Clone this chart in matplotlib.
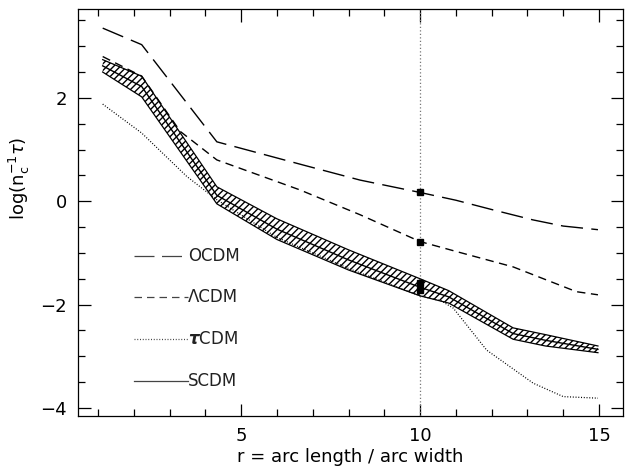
import matplotlib
matplotlib.use("Agg")
import matplotlib.pyplot as plt
import numpy as np

plt.rcParams['font.family'] = ['DejaVu Sans']
plt.rcParams['mathtext.fontset'] = 'dejavusans'
plt.rcParams['hatch.linewidth'] = 1.0

# OCDM (long dashes)
ocdm_r = [1.13, 2.22, 4.32, 6.74, 8.32, 10.0, 11.0, 12.0, 13.15, 14.0, 14.97]
ocdm_v = [3.35, 3.03, 1.15, 0.70, 0.41, 0.17, 0.02, -0.16, -0.36, -0.48, -0.55]

# LCDM (short dashes)
lcdm_r = [1.13, 2.22, 3.3, 4.32, 6.64, 8.32, 10.0, 11.0, 12.6, 14.37, 14.97]
lcdm_v = [2.80, 2.42, 1.35, 0.80, 0.22, -0.26, -0.78, -0.97, -1.27, -1.75, -1.81]

# tauCDM (dotted)
tcdm_r = [1.13, 2.22, 3.48, 4.32, 6.0, 8.0, 10.0, 10.6, 10.93, 11.86, 13.16, 14.0, 14.97]
tcdm_v = [1.88, 1.32, 0.48, 0.03, -0.70, -1.30, -1.83, -1.93, -2.07, -2.88, -3.52, -3.78, -3.81]

# SCDM band (solid centre, hatched spread)
scdm_r = [1.13, 2.22, 4.32, 6.0, 8.0, 10.0, 10.8, 12.6, 13.5, 14.97]
scdm_hi = [2.74, 2.42, 0.28, -0.34, -0.94, -1.50, -1.73, -2.45, -2.58, -2.80]
scdm_lo = [2.50, 2.02, -0.05, -0.74, -1.33, -1.83, -1.97, -2.67, -2.80, -2.93]
scdm_mid = [(a + b) / 2 for a, b in zip(scdm_hi, scdm_lo)]

# points marked at r = 10
mark_r = [10, 10, 10, 10]
mark_v = [0.17, -0.78, -1.58, -1.71]

legend_names = ['OCDM', 'ΛCDM', r'$\boldsymbol{\tau}$CDM', 'SCDM']
legend_y = [-1.05, -1.85, -2.67, -3.48]

fig = plt.figure(figsize=(6.25, 4.66), dpi=100)
ax = fig.add_axes([78/625, 1-416/466, (623-78)/625, (416-9)/466])

ax.axvline(10, color='#777777', lw=0.9, linestyle=(0, (1, 1.8)))

ax.fill_between(scdm_r, scdm_lo, scdm_hi, facecolor='white', edgecolor='black',
                hatch='/////', lw=0)
ax.plot(scdm_r, scdm_hi, color='black', lw=0.9)
ax.plot(scdm_r, scdm_lo, color='black', lw=0.9)
ax.plot(scdm_r, scdm_mid, color='black', lw=1.0)

ax.plot(ocdm_r, ocdm_v, color='black', lw=1.0, dashes=(16, 6))
ax.plot(lcdm_r, lcdm_v, color='black', lw=1.0, dashes=(6, 4))
ax.plot(tcdm_r, tcdm_v, color='black', lw=0.9, dashes=(0.8, 1.4))

ax.plot(mark_r, mark_v, 's', color='black', ms=4.5, lw=0)

# hand-made legend
styles = [dict(dashes=(16, 6)), dict(dashes=(6, 4)), dict(dashes=(0.8, 1.4)), dict()]
for name, yy, st in zip(legend_names, legend_y, styles):
    ax.plot([2.0, 3.5], [yy, yy], color='#444444', lw=0.9, **st)
    ax.text(3.52, yy, name, fontsize=12, va='center', ha='left', color='#222222')

ax.set_xlim(0.44, 15.67)
ax.set_ylim(-4.155, 3.72)
ax.set_xticks([5, 10, 15])
ax.set_xticks(np.arange(1, 16), minor=True)
ax.set_yticks([-4, -2, 0, 2])
ax.set_yticks(np.arange(-4, 3.6, 0.5), minor=True)
ax.tick_params(which='both', direction='in', top=True, right=True, labelsize=13, pad=8)
ax.tick_params(which='major', length=9, width=0.9)
ax.tick_params(which='minor', length=5, width=0.9)
for s in ax.spines.values():
    s.set_linewidth(0.9)

ax.set_xlabel('r = arc length / arc width', fontsize=13, labelpad=2)
ax.set_ylabel(r'log(n$_{\rm c}^{-1}\tau$)', fontsize=13)
ax.yaxis.set_label_coords(-0.085, 0.585)

fig.savefig('out.png', dpi=100)
